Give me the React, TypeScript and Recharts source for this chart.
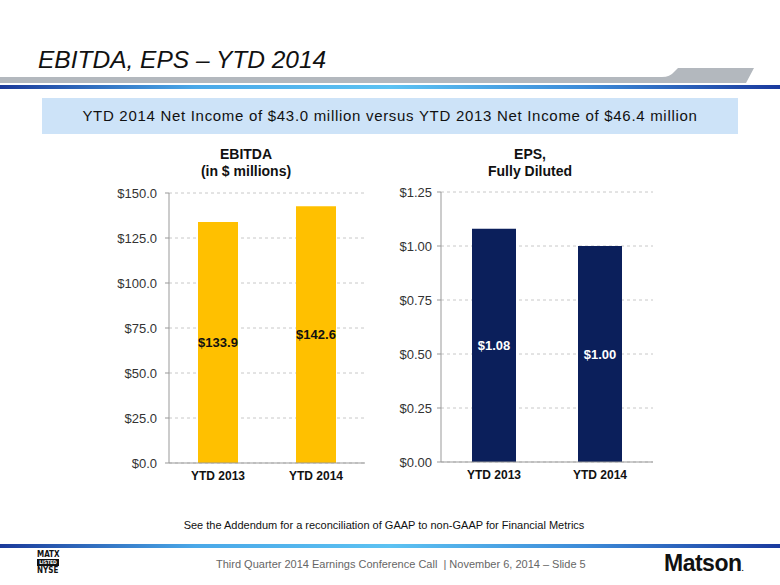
import React from 'react';
import { BarChart, Bar, XAxis, YAxis, CartesianGrid, LabelList } from 'recharts';

const categories = ['YTD 2013', 'YTD 2014'];
const ebitdaValues = [133.9, 142.6];
const epsValues = [1.08, 1.0];
const ebitdaTicks = [0, 25, 50, 75, 100, 125, 150];
const epsTicks = [0, 0.25, 0.5, 0.75, 1.0, 1.25];

const ebitdaData = categories.map((name, i) => ({ name, value: ebitdaValues[i] }));
const epsData = categories.map((name, i) => ({ name, value: epsValues[i] }));

const font = 'Arial, "Liberation Sans", Helvetica, sans-serif';

const yTick = { fontSize: 13, fill: '#333', fontFamily: font };
const xTick = { fontSize: 12, fill: '#111', fontFamily: font, fontWeight: 700 };

function ChartTitle({ lines, left, top, width }: { lines: string[]; left: number; top: number; width: number }) {
    return (
        <div
            style={{
                position: 'absolute',
                left,
                top,
                width,
                textAlign: 'center',
                fontFamily: font,
                fontWeight: 700,
                fontSize: 14,
                lineHeight: '17px',
                color: '#111',
            }}
        >
            {lines.map((l) => (
                <div key={l}>{l}</div>
            ))}
        </div>
    );
}

export default function App() {
    return (
        <div
            style={{
                position: 'absolute',
                left: 0,
                top: 0,
                width: 780,
                height: 585,
                background: '#fff',
                overflow: 'hidden',
                fontFamily: font,
            }}
        >
            {/* header */}
            <div
                style={{
                    position: 'absolute',
                    left: 38,
                    top: 46,
                    fontSize: 24.5,
                    fontStyle: 'italic',
                    color: '#111',
                }}
            >
                EBITDA, EPS – YTD 2014
            </div>
            <svg style={{ position: 'absolute', left: 0, top: 60 }} width={780} height={32}>
                <defs>
                    <linearGradient id="topLine" x1="0" x2="1" y1="0" y2="0">
                        <stop offset="0" stopColor="#1b3a9a" />
                        <stop offset="0.25" stopColor="#4aa8e8" />
                        <stop offset="0.5" stopColor="#5cc2f2" />
                        <stop offset="0.75" stopColor="#3d8bd8" />
                        <stop offset="1" stopColor="#1a3a9e" />
                    </linearGradient>
                </defs>
                <path
                    d="M0 17 L662 17 Q670 17 674 12 L678 8 L754 8 L746 23 L0 23 Z"
                    fill="#b3b8be"
                />
                <rect x={0} y={25} width={780} height={4} fill="url(#topLine)" />
            </svg>

            <div
                style={{
                    position: 'absolute',
                    left: 42,
                    top: 98,
                    width: 696,
                    height: 36,
                    background: '#cde3f8',
                    textAlign: 'center',
                    lineHeight: '36px',
                    fontSize: 15,
                    letterSpacing: 0.7,
                    color: '#111',
                }}
            >
                YTD 2014 Net Income of $43.0 million versus YTD 2013 Net Income of $46.4 million
            </div>

            <ChartTitle lines={['EBITDA', '(in $ millions)']} left={146} top={146} width={200} />
            <ChartTitle lines={['EPS,', 'Fully Diluted']} left={430} top={146} width={200} />

            <div style={{ position: 'absolute', left: 100, top: 185 }}>
                <BarChart
                    width={280}
                    height={308}
                    data={ebitdaData}
                    margin={{ top: 8, right: 15, left: 0, bottom: 0 }}
                >
                    <CartesianGrid vertical={false} stroke="#c8c8c8" strokeDasharray="3 3" />
                    <XAxis
                        dataKey="name"
                        tick={xTick}
                        tickLine={false}
                        axisLine={{ stroke: '#999' }}
                        height={30}
                    />
                    <YAxis
                        domain={[0, 150]}
                        ticks={ebitdaTicks}
                        tick={yTick}
                        tickSize={4}
                        tickMargin={8}
                        width={69}
                        tickFormatter={(v: number) => `$${v.toFixed(1)}`}
                        axisLine={{ stroke: '#999' }}
                        tickLine={{ stroke: '#999' }}
                    />
                    <Bar dataKey="value" fill="#FFC000" barSize={40} isAnimationActive={false}>
                        <LabelList
                            dataKey="value"
                            position="center"
                            formatter={(v: number) => `$${v.toFixed(1)}`}
                            style={{ fontSize: 13, fontWeight: 700, fill: '#111', fontFamily: font }}
                        />
                    </Bar>
                </BarChart>
            </div>

            <div style={{ position: 'absolute', left: 380, top: 185 }}>
                <BarChart
                    width={288}
                    height={307}
                    data={epsData}
                    margin={{ top: 7, right: 15, left: 0, bottom: 0 }}
                >
                    <CartesianGrid vertical={false} stroke="#c8c8c8" strokeDasharray="3 3" />
                    <XAxis
                        dataKey="name"
                        tick={xTick}
                        tickLine={false}
                        axisLine={{ stroke: '#999' }}
                        height={30}
                    />
                    <YAxis
                        domain={[0, 1.25]}
                        ticks={epsTicks}
                        tick={yTick}
                        tickSize={4}
                        tickMargin={5}
                        width={61}
                        tickFormatter={(v: number) => `$${v.toFixed(2)}`}
                        axisLine={{ stroke: '#999' }}
                        tickLine={{ stroke: '#999' }}
                    />
                    <Bar dataKey="value" fill="#0B1F5B" barSize={44} isAnimationActive={false}>
                        <LabelList
                            dataKey="value"
                            position="center"
                            formatter={(v: number) => `$${v.toFixed(2)}`}
                            style={{ fontSize: 13, fontWeight: 700, fill: '#fff', fontFamily: font }}
                        />
                    </Bar>
                </BarChart>
            </div>

            <div
                style={{
                    position: 'absolute',
                    left: 0,
                    top: 519,
                    width: 768,
                    textAlign: 'center',
                    fontSize: 11,
                    color: '#111',
                }}
            >
                See the Addendum for a reconciliation of GAAP to non-GAAP for Financial Metrics
            </div>

            {/* footer */}
            <svg style={{ position: 'absolute', left: 0, top: 543 }} width={780} height={6}>
                <defs>
                    <linearGradient id="botLine" x1="0" x2="1" y1="0" y2="0">
                        <stop offset="0" stopColor="#1b3a9a" />
                        <stop offset="0.25" stopColor="#4aa8e8" />
                        <stop offset="0.5" stopColor="#5cc2f2" />
                        <stop offset="0.75" stopColor="#3d8bd8" />
                        <stop offset="1" stopColor="#1a3a9e" />
                    </linearGradient>
                </defs>
                <rect x={0} y={1} width={780} height={4} fill="url(#botLine)" />
            </svg>

            <div
                style={{
                    position: 'absolute',
                    left: 37,
                    top: 550,
                    width: 28,
                    fontFamily: '"DejaVu Sans Condensed", "Liberation Sans Narrow", sans-serif',
                    fontWeight: 700,
                    fontSize: 8,
                    lineHeight: '9px',
                    color: '#111',
                }}
            >
                <div>MATX</div>
                <div style={{ background: '#111', color: '#fff', fontSize: 5, lineHeight: '7px', width: 22, textAlign: 'center' }}>
                    LISTED
                </div>
                <div>NYSE</div>
            </div>

            <div
                style={{
                    position: 'absolute',
                    left: 216,
                    top: 558,
                    fontSize: 11,
                    color: '#666',
                    whiteSpace: 'nowrap',
                }}
            >
                Third Quarter 2014 Earnings Conference Call &nbsp;| November 6, 2014 – Slide 5
            </div>

            <div
                style={{
                    position: 'absolute',
                    left: 664,
                    top: 550,
                    fontSize: 23,
                    fontWeight: 700,
                    color: '#111',
                    letterSpacing: -0.5,
                }}
            >
                Matson<span style={{ fontSize: 8 }}>.</span>
            </div>
        </div>
    );
}
